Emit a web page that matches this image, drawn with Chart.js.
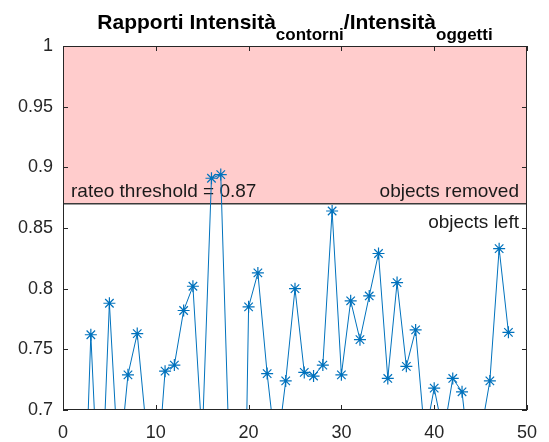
<!DOCTYPE html>
<html>
<head>
<meta charset="utf-8">
<script src="https://cdn.jsdelivr.net/npm/chart.js@4.4.0/dist/chart.umd.min.js"></script>
<style>
  body { margin: 0; background: #fff; }
</style>
</head>
<body>
<canvas id="myChart" width="549" height="442"></canvas>
<script>
// object index along x, ratio value per object
const objectIndex = [1,2,3,4,5,6,7,8,9,10,11,12,13,14,15,16,17,18,19,20,21,22,23,24,25,26,27,28,29,30,31,32,33,34,35,36,37,38,39,40,41,42,43,44,45,46,47,48];
const ratioValues = [0.60,0.54,0.762,0.597,0.788,0.650,0.729,0.763,0.682,0.630,
  0.732,0.737,0.782,0.802,0.675,0.891,0.894,0.642,0.33,0.785,
  0.813,0.730,0.662,0.724,0.800,0.731,0.728,0.737,0.864,0.729,
  0.790,0.758,0.794,0.829,0.726,0.805,0.736,0.766,0.677,0.718,
  0.680,0.726,0.715,0.645,0.680,0.724,0.833,0.764];
const threshold = 0.87;
const xTicks = [0, 10, 20, 30, 40, 50];
const yTicks = [0.7, 0.75, 0.8, 0.85, 0.9, 0.95, 1];

const axisColor = '#262626';
const fontFamily = '"Liberation Sans", Arial, Helvetica, sans-serif';

const ctx = document.getElementById('myChart').getContext('2d');

// pink zone above the threshold, line and labels
const thresholdZone = {
  id: 'thresholdZone',
  beforeDatasetsDraw(chart) {
    const c = chart.ctx, a = chart.chartArea;
    const y = chart.scales.y;
    const yTh = y.getPixelForValue(threshold);
    const yTop = y.getPixelForValue(1);
    c.save();
    c.fillStyle = '#ffcccc';
    c.fillRect(a.left, yTop, a.right - a.left, yTh - yTop);
    c.strokeStyle = '#3a3a3a';
    c.lineWidth = 1.5;
    c.beginPath();
    c.moveTo(a.left, yTh);
    c.lineTo(a.right, yTh);
    c.stroke();

    c.fillStyle = '#1a1a1a';
    c.font = '19px ' + fontFamily;
    c.textBaseline = 'alphabetic';
    c.textAlign = 'left';
    c.fillText('rateo threshold = ' + threshold, a.left + 8, yTh - 7);
    c.textAlign = 'right';
    c.fillText('objects removed', a.right - 8, yTh - 7);
    c.fillText('objects left', a.right - 8, yTh + 24);
    c.restore();
  }
};

// matlab style box with inward ticks + title with subscripts
const boxAndTitle = {
  id: 'boxAndTitle',
  afterDraw(chart) {
    const c = chart.ctx, a = chart.chartArea;
    const xs = chart.scales.x, ys = chart.scales.y;
    const tl = 5;
    c.save();
    c.strokeStyle = axisColor;
    c.lineWidth = 1;
    c.strokeRect(a.left + 0.5, a.top + 0.5, a.right - a.left - 1, a.bottom - a.top - 1);
    c.beginPath();
    xTicks.forEach(v => {
      const px = Math.round(xs.getPixelForValue(v)) + 0.5;
      c.moveTo(px, a.bottom); c.lineTo(px, a.bottom - tl);
      c.moveTo(px, a.top); c.lineTo(px, a.top + tl);
    });
    yTicks.forEach(v => {
      const py = Math.round(ys.getPixelForValue(v)) + 0.5;
      c.moveTo(a.left, py); c.lineTo(a.left + tl, py);
      c.moveTo(a.right, py); c.lineTo(a.right - tl, py);
    });
    c.stroke();

    const parts = [
      { t: 'Rapporti Intensità', sub: false },
      { t: 'contorni', sub: true },
      { t: '/Intensità', sub: false },
      { t: 'oggetti', sub: true }
    ];
    const mainFont = 'bold 21px ' + fontFamily;
    const subFont = 'bold 17px ' + fontFamily;
    let total = 0;
    parts.forEach(p => {
      c.font = p.sub ? subFont : mainFont;
      p.w = c.measureText(p.t).width;
      total += p.w;
    });
    let x = (a.left + a.right) / 2 - total / 2;
    c.fillStyle = '#000';
    c.textAlign = 'left';
    c.textBaseline = 'alphabetic';
    parts.forEach(p => {
      c.font = p.sub ? subFont : mainFont;
      c.fillText(p.t, x, p.sub ? 40 : 29);
      x += p.w;
    });
    c.restore();
  }
};

new Chart(ctx, {
  type: 'line',
  data: {
    datasets: [{
      data: objectIndex.map((xv, i) => ({ x: xv, y: ratioValues[i] })),
      borderColor: 'rgb(0,114,189)',
      borderWidth: 1,
      pointStyle: 'star',
      pointRadius: 6,
      pointBorderWidth: 1.2,
      pointBorderColor: 'rgb(0,114,189)',
      pointBackgroundColor: 'rgb(0,114,189)',
      tension: 0,
      fill: false,
      clip: 0
    }]
  },
  options: {
    responsive: false,
    animation: false,
    layout: { padding: { left: 0, top: 46, right: 15, bottom: 0 } },
    scales: {
      x: {
        type: 'linear',
        min: 0,
        max: 50,
        afterFit: s => { s.height = 32; },
        afterBuildTicks: s => { s.ticks = xTicks.map(v => ({ value: v })); },
        grid: { display: false, drawTicks: false },
        border: { display: false },
        ticks: {
          padding: 12,
          color: axisColor,
          font: { size: 18, family: fontFamily },
          maxRotation: 0
        }
      },
      y: {
        min: 0.7,
        max: 1,
        afterFit: s => { s.width = 63; },
        afterBuildTicks: s => { s.ticks = yTicks.map(v => ({ value: v })); },
        grid: { display: false, drawTicks: false },
        border: { display: false },
        ticks: {
          padding: 10,
          color: axisColor,
          font: { size: 18, family: fontFamily },
          callback: v => String(Math.round(v * 100) / 100)
        }
      }
    },
    plugins: {
      legend: { display: false },
      tooltip: { enabled: false }
    }
  },
  plugins: [thresholdZone, boxAndTitle]
});
</script>
</body>
</html>
